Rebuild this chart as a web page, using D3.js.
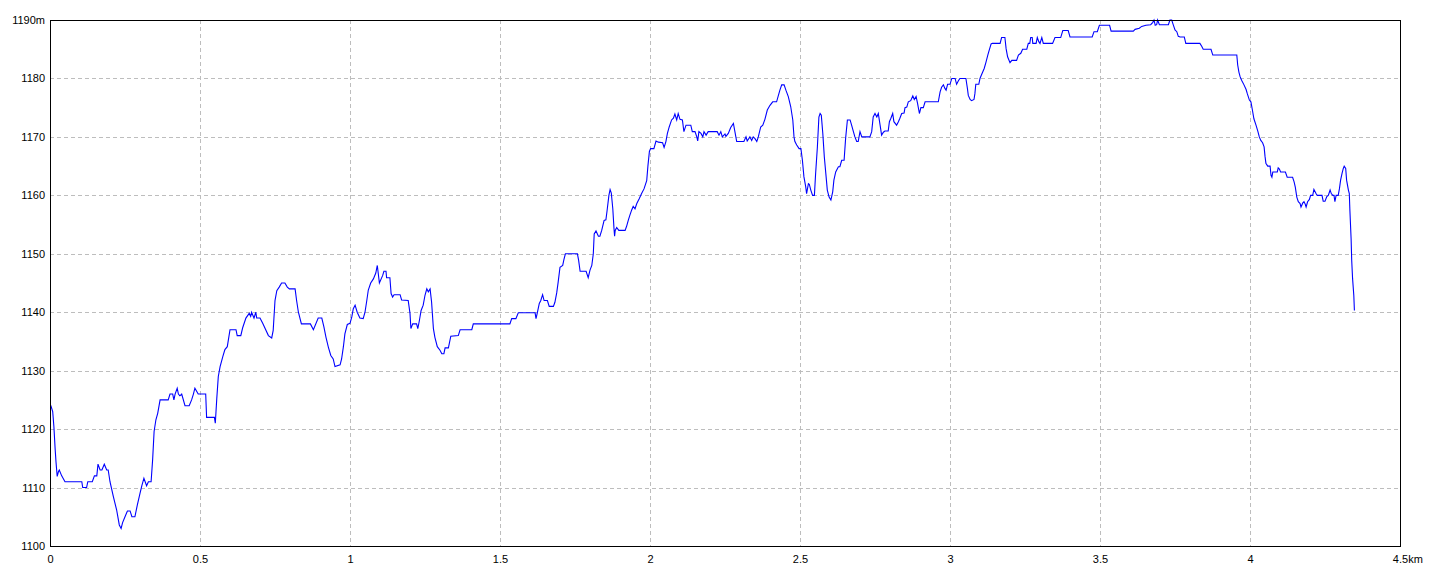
<!DOCTYPE html>
<html>
<head>
<meta charset="utf-8">
<script src="https://cdn.jsdelivr.net/npm/d3@7"></script>
<style>
  html, body { margin: 0; padding: 0; background: #fff; }
  svg { display: block; }
  text { font-family: "Liberation Sans", Arial, sans-serif; font-size: 11px; fill: #000; }
</style>
</head>
<body>
<svg id="chart" width="1440" height="576"></svg>
<script>
// Distance along the route (km)
const distanceKm = [
  0.000,0.003,0.009,0.013,0.017,0.020,0.024,0.028,0.031,0.039,0.050,0.106,0.109,0.122,0.126,0.141,0.148,0.156,0.160,0.167,
  0.173,0.181,0.189,0.194,0.200,0.211,0.222,0.231,0.237,0.242,0.250,0.258,0.267,0.273,0.283,0.291,0.300,0.306,0.313,0.322,
  0.328,0.337,0.342,0.347,0.353,0.359,0.367,0.394,0.400,0.409,0.413,0.417,0.424,0.428,0.433,0.439,0.450,0.464,0.472,0.478,
  0.483,0.494,0.519,0.522,0.548,0.551,0.556,0.561,0.567,0.576,0.583,0.591,0.600,0.620,0.624,0.636,0.642,0.653,0.664,0.669,
  0.672,0.680,0.686,0.689,0.700,0.709,0.728,0.739,0.744,0.750,0.756,0.764,0.772,0.783,0.791,0.798,0.817,0.822,0.828,0.838,
  0.868,0.878,0.894,0.906,0.913,0.920,0.928,0.936,0.944,0.950,0.967,0.972,0.978,0.983,0.991,1.000,1.006,1.011,1.017,1.024,
  1.033,1.044,1.050,1.056,1.061,1.069,1.078,1.086,1.091,1.098,1.109,1.113,1.120,1.122,1.133,1.137,1.142,1.147,1.167,1.172,
  1.194,1.200,1.203,1.209,1.222,1.226,1.231,1.237,1.244,1.250,1.256,1.261,1.267,1.272,1.278,1.283,1.291,1.300,1.306,1.313,
  1.317,1.328,1.336,1.361,1.367,1.406,1.411,1.500,1.533,1.539,1.553,1.561,1.617,1.620,1.624,1.631,1.636,1.642,1.647,1.658,
  1.664,1.678,1.683,1.689,1.694,1.700,1.709,1.713,1.718,1.758,1.762,1.767,1.787,1.794,1.800,1.806,1.811,1.814,1.820,1.828,
  1.833,1.839,1.847,1.853,1.857,1.863,1.867,1.871,1.876,1.880,1.882,1.884,1.889,1.896,1.917,1.922,1.928,1.933,1.939,1.944,
  1.950,1.956,1.964,1.972,1.980,1.989,1.993,1.998,2.002,2.013,2.020,2.028,2.042,2.047,2.053,2.058,2.064,2.072,2.078,2.083,
  2.089,2.094,2.100,2.108,2.113,2.120,2.136,2.141,2.150,2.156,2.159,2.163,2.170,2.176,2.180,2.187,2.194,2.224,2.230,2.236,
  2.241,2.250,2.253,2.261,2.269,2.278,2.283,2.289,2.313,2.320,2.324,2.333,2.339,2.344,2.350,2.356,2.361,2.369,2.376,2.383,
  2.391,2.400,2.409,2.422,2.428,2.433,2.439,2.447,2.453,2.461,2.469,2.476,2.480,2.483,2.489,2.497,2.503,2.508,2.513,2.519,
  2.522,2.528,2.531,2.536,2.542,2.548,2.552,2.558,2.563,2.567,2.571,2.576,2.581,2.587,2.591,2.597,2.603,2.609,2.613,2.619,
  2.628,2.633,2.639,2.647,2.652,2.658,2.667,2.672,2.678,2.683,2.689,2.694,2.700,2.706,2.733,2.739,2.744,2.750,2.756,2.761,
  2.767,2.772,2.778,2.783,2.794,2.798,2.803,2.809,2.813,2.822,2.828,2.833,2.839,2.847,2.850,2.856,2.861,2.869,2.876,2.881,
  2.887,2.892,2.898,2.903,2.911,2.917,2.961,2.967,2.972,2.978,2.983,2.987,2.992,3.000,3.006,3.017,3.022,3.028,3.033,3.053,
  3.058,3.061,3.067,3.072,3.080,3.083,3.086,3.096,3.100,3.104,3.109,3.114,3.120,3.126,3.131,3.137,3.141,3.167,3.172,3.183,
  3.187,3.192,3.200,3.206,3.222,3.228,3.236,3.242,3.256,3.261,3.266,3.269,3.274,3.276,3.287,3.291,3.296,3.300,3.306,3.311,
  3.342,3.350,3.369,3.376,3.394,3.400,3.474,3.480,3.491,3.498,3.532,3.537,3.611,3.617,3.631,3.639,3.653,3.669,3.676,3.680,
  3.684,3.689,3.692,3.698,3.728,3.733,3.739,3.744,3.750,3.756,3.761,3.767,3.781,3.786,3.833,3.839,3.844,3.870,3.876,3.956,
  3.959,3.963,3.967,3.972,3.980,3.987,3.991,3.998,4.003,4.008,4.013,4.020,4.026,4.031,4.036,4.042,4.047,4.050,4.053,4.059,
  4.067,4.070,4.073,4.076,4.091,4.094,4.098,4.102,4.118,4.124,4.142,4.147,4.151,4.156,4.161,4.167,4.170,4.176,4.180,4.184,
  4.187,4.192,4.198,4.202,4.209,4.213,4.220,4.224,4.240,4.244,4.250,4.256,4.261,4.267,4.271,4.276,4.280,4.283,4.287,4.294,
  4.298,4.302,4.307,4.311,4.314,4.319,4.322,4.328,4.331,4.333,4.337,4.339,4.342,4.346,4.348
];

// Elevation (m)
const elevationM = [
  1124,1124,1123,1120.4,1116.7,1114.4,1111.9,1112.7,1113,1112,1111,1111,1110,1110,1111,1111,1112,1112,1114,1113,
  1113,1114,1113,1113,1111,1108.5,1106.2,1103.6,1103,1104,1105,1106,1106,1105,1105,1107,1109,1110.3,1111.6,1110.3,
  1111,1111,1114.7,1119.6,1121.6,1122.7,1125,1125,1126,1126,1125,1126,1127,1126,1125.7,1126,1124,1124,1125,1126,
  1127,1126,1126,1122,1122,1121,1125.3,1129,1130.7,1132.4,1133.6,1134.1,1137,1137,1136,1136,1137.3,1139,1139.8,1139.3,
  1140,1139,1140,1139,1139,1138.1,1136,1135.6,1136.9,1142,1143.7,1144.3,1145,1145,1144.3,1144,1144,1142,1140,1138,
  1138,1137,1139,1139,1137.5,1135.7,1134,1132.6,1132,1130.7,1131,1132,1134.1,1136.3,1137.9,1138.1,1139.2,1140.6,1141.2,1140,
  1139,1138.9,1140,1142,1143.8,1145,1145.7,1146.7,1148,1145,1146.3,1147,1147,1145.9,1145.9,1143.2,1142.6,1143,1143,1142.1,
  1142,1139.8,1137.2,1138,1138,1137.2,1138.5,1140.3,1141.2,1142.9,1144,1143.5,1144,1141.7,1137.2,1135.7,1134.1,1133.5,1132.9,1132.9,
  1133.9,1133.9,1135.9,1136,1137,1137,1138,1138,1138,1138.9,1138.9,1139.9,1139.9,1138.9,1139.8,1141.5,1142,1143,1142,1142,
  1141,1141,1141.7,1143.3,1145.2,1147.7,1148,1149,1150,1150,1148.9,1147,1147,1145.9,1147.2,1148,1150,1153.4,1153.9,1153,
  1153,1154,1155.7,1155.8,1157.4,1160,1161,1160.4,1157.7,1154.3,1153,1154,1154.5,1154,1154,1154.7,1155.8,1156.6,1157.5,1158.1,
  1157.7,1158.6,1159.4,1160.3,1161.1,1162.5,1165,1167.5,1168,1168,1169.3,1169.1,1169,1168.2,1169.2,1170.6,1171.7,1172.9,1173.2,1173.9,
  1172.9,1174,1173,1172.9,1170.9,1172,1172,1170.9,1170.9,1170,1169.3,1170.9,1170.6,1170,1170.9,1170.3,1170.9,1170.9,1170.3,1170.9,
  1170,1170.5,1170.1,1170.6,1171.6,1172.3,1170.9,1169.2,1169.2,1170,1169.3,1170,1169.4,1170,1169.7,1169.2,1170,1171.7,1172,1173,
  1174.6,1175.4,1176,1176,1177.1,1178,1178.9,1178.9,1178,1176.9,1175.2,1172.9,1170,1169.2,1168.6,1168,1168,1166,1163.2,1161.5,
  1160.3,1162,1161.9,1160.9,1160,1160,1163.7,1168.3,1173.4,1174,1173.7,1170.6,1166.6,1163.2,1160.9,1159.7,1159.2,1160.6,1162.6,1164,
  1164.9,1164.9,1166,1166,1169.7,1172.9,1172.9,1172,1170.9,1170,1169.2,1169.2,1170.9,1170,1170,1170.9,1173.4,1174,1173.4,1174,
  1172,1170.3,1170.8,1171,1171,1172.6,1173.2,1174,1172.6,1172,1172.6,1173.2,1174,1174.1,1175,1175.1,1176,1176.2,1177,1176.4,
  1176.9,1175.7,1174,1175,1175,1176,1176,1177.7,1178.5,1178.9,1178.3,1178,1179,1179,1180,1180,1179,1179.6,1180,1180,
  1178.3,1177.1,1176.4,1176.2,1176.4,1177.4,1179,1179,1180,1180.5,1181.1,1181.7,1182.8,1184,1184.9,1185.9,1186,1186,1187,1187,
  1185.1,1183.7,1182.7,1183.1,1183.1,1184,1184.3,1185,1185,1186,1186,1187,1187,1186,1186,1187,1186.3,1186,1187,1186,
  1186,1187,1187,1188.2,1188.2,1187.1,1187.1,1188,1188,1189.1,1189.1,1188.1,1188.1,1188.4,1188.6,1188.9,1189.1,1189.2,1189.6,1190,
  1189.1,1189.2,1190,1189.2,1189.2,1190,1190,1189.2,1188.3,1188,1187.2,1187.1,1187.1,1186,1186,1185.5,1185,1185,1184,1184,
  1182.3,1181.1,1180.3,1179.7,1178.9,1178.1,1177.4,1176.3,1176,1174.6,1173.1,1172,1171,1170,1169.4,1169,1168.3,1166.7,1165.5,1165,
  1165,1163.4,1163.1,1164,1164,1164.7,1164.5,1164,1164,1163.1,1163.1,1162.3,1161.4,1159.7,1158.9,1158.6,1158,1158.7,1158.9,1158.5,
  1158,1158.9,1159.3,1160,1160,1161,1160.3,1160,1160,1159,1159,1159.8,1160,1160.9,1160.3,1160,1160,1158.9,1160,1160,
  1161.1,1162.6,1163.8,1164.6,1165,1164.6,1162.6,1160.9,1160.3,1157.4,1152.6,1148.9,1145.7,1142.9,1140.3
];

// Axis ticks and labels
const xTicks = [0, 0.5, 1, 1.5, 2, 2.5, 3, 3.5, 4, 4.5];
const xTickLabels = ["0", "0.5", "1", "1.5", "2", "2.5", "3", "3.5", "4", "4.5"];
const xUnit = "km";
const yTicks = [1100, 1110, 1120, 1130, 1140, 1150, 1160, 1170, 1180, 1190];
const yTickLabels = ["1100", "1110", "1120", "1130", "1140", "1150", "1160", "1170", "1180", "1190m"];

const margin = { left: 50, top: 20, right: 40, bottom: 30 };
const W = 1440, H = 576;
const plotW = W - margin.left - margin.right; // 1350
const plotH = H - margin.top - margin.bottom; // 526

const svg = d3.select("#chart");
const g = svg.append("g").attr("transform", `translate(${margin.left},${margin.top})`);

const x = d3.scaleLinear().domain([0, 4.5]).range([0, plotW]);
const y = d3.scaleLinear().domain([1100, 1190]).range([plotH, 0]);

// Grid lines
const gridColor = "#bdbdbd";
g.append("g")
  .selectAll("line.vg")
  .data(xTicks.filter(v => v > 0 && v < 4.5))
  .join("line")
  .attr("x1", d => Math.round(x(d)) + 0.5).attr("x2", d => Math.round(x(d)) + 0.5)
  .attr("y1", 0).attr("y2", plotH)
  .attr("stroke", gridColor).attr("stroke-width", 1)
  .attr("stroke-dasharray", "4,3").attr("shape-rendering", "crispEdges");

g.append("g")
  .selectAll("line.hg")
  .data(yTicks.filter(v => v > 1100 && v < 1190))
  .join("line")
  .attr("y1", d => Math.round(y(d)) + 0.5).attr("y2", d => Math.round(y(d)) + 0.5)
  .attr("x1", 0).attr("x2", plotW)
  .attr("stroke", gridColor).attr("stroke-width", 1)
  .attr("stroke-dasharray", "4,3").attr("shape-rendering", "crispEdges");

// Elevation line
const data = distanceKm.map((d, i) => [d, elevationM[i]]);
const line = d3.line().x(d => x(d[0])).y(d => y(d[1]));
g.append("path")
  .datum(data)
  .attr("d", line)
  .attr("fill", "none")
  .attr("stroke", "#0000ff")
  .attr("stroke-width", 1.1)
  .attr("stroke-linejoin", "miter");

// Frame
g.append("rect")
  .attr("x", 0.5).attr("y", 0.5)
  .attr("width", plotW).attr("height", plotH)
  .attr("fill", "none").attr("stroke", "#000").attr("stroke-width", 1.2)
  .attr("shape-rendering", "crispEdges");

// Axes (labels only)
const xAxis = d3.axisBottom(x)
  .tickValues(xTicks)
  .tickSize(0)
  .tickPadding(9)
  .tickFormat((d, i) => xTickLabels[i]);
const xg = g.append("g").attr("transform", `translate(0,${plotH})`).call(xAxis);
xg.select(".domain").remove();
xg.selectAll("text").attr("font-family", null).attr("font-size", null).attr("fill", "#000");
// last label carries the unit; keep number centred on the tick
xg.selectAll(".tick").filter((d, i) => i === xTicks.length - 1).select("text").each(function(d, i) {
  const t = d3.select(this);
  const half = this.getComputedTextLength() / 2;
  t.attr("text-anchor", "start").attr("x", -half).text(xTickLabels[xTickLabels.length - 1] + xUnit);
});

const yAxis = d3.axisLeft(y)
  .tickValues(yTicks)
  .tickSize(0)
  .tickPadding(5)
  .tickFormat((d, i) => yTickLabels[i]);
const yg = g.append("g").call(yAxis);
yg.select(".domain").remove();
yg.selectAll("text").attr("font-family", null).attr("font-size", null).attr("fill", "#000");
</script>
</body>
</html>
